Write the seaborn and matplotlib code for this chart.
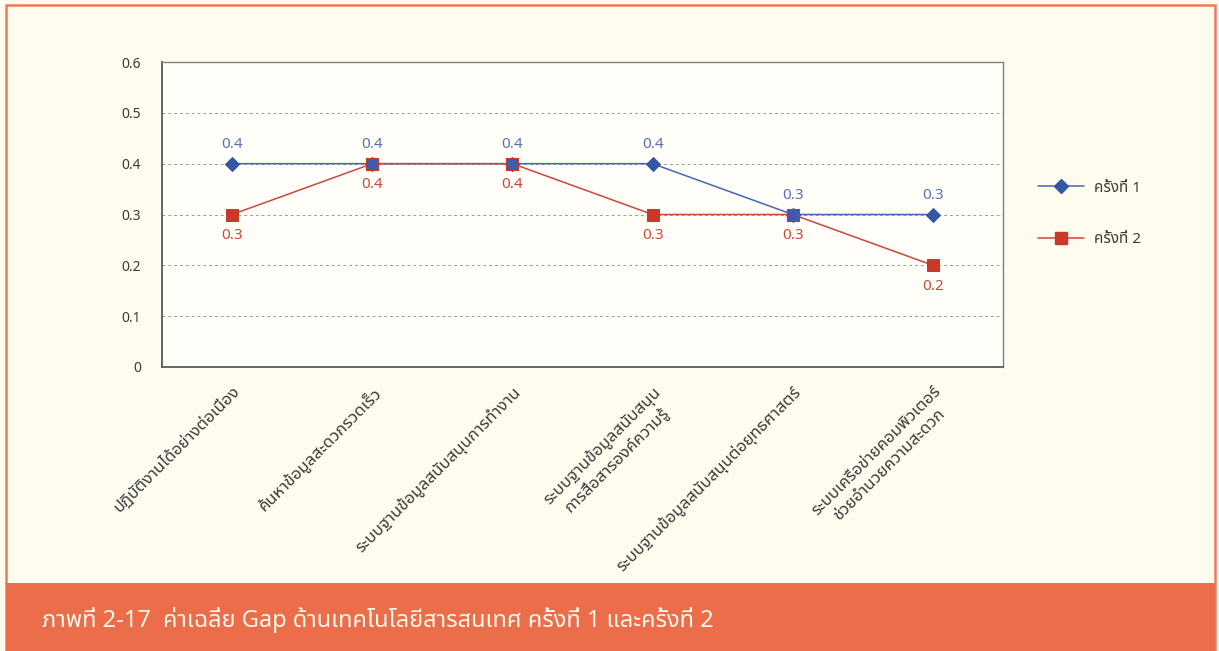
import matplotlib
matplotlib.use("Agg")
import matplotlib.pyplot as plt
from matplotlib import font_manager
from matplotlib.patches import Rectangle
from matplotlib.lines import Line2D
from matplotlib.ticker import FixedLocator, NullFormatter
from matplotlib.transforms import ScaledTranslation
import numpy as np
import pandas as pd
import seaborn as sns

# ---- data -------------------------------------------------------------
categories = [
    "ปฏิบัติงานได้อย่างต่อเนื่อง",
    "ค้นหาข้อมูลสะดวกรวดเร็ว",
    "ระบบฐานข้อมูลสนับสนุนการทำงาน",
    "ระบบฐานข้อมูลสนับสนุน\nการสื่อสารองค์ความรู้",
    "ระบบฐานข้อมูลสนับสนุนต่อยุทธศาสตร์",
    "ระบบเครือข่ายคอมพิวเตอร์\nช่วยอำนวยความสะดวก",
]
round_1 = [0.4, 0.4, 0.4, 0.4, 0.3, 0.3]
round_2 = [0.3, 0.4, 0.4, 0.3, 0.3, 0.2]
series_names = ["ครั้งที่ 1", "ครั้งที่ 2"]
y_ticks = [0, 0.1, 0.2, 0.3, 0.4, 0.5, 0.6]
caption = "ภาพที่ 2-17  ค่าเฉลี่ย Gap ด้านเทคโนโลยีสารสนเทศ ครั้งที่ 1 และครั้งที่ 2"


# ---- pick an installed family that covers Thai -------------------------
def find_thai_family():
    try:
        from fontTools.ttLib import TTFont
    except Exception:
        return None
    hits = []
    for f in font_manager.fontManager.ttflist:
        try:
            tt = TTFont(f.fname, fontNumber=0, lazy=True)
            cmap = tt.getBestCmap() or {}
            if 0x0E01 in cmap and 0x0E33 in cmap and 0x0E48 in cmap:
                hits.append(f.name)
        except Exception:
            pass
    pref = ["Noto Sans Thai", "Noto Sans Thai UI", "Noto Sans Thai Looped",
            "Sarabun", "Loma", "Garuda", "Kinnari", "Norasi", "Waree",
            "Tlwg Typist", "Umpush", "Laksaman", "FreeSans", "Arial Unicode MS"]
    for p in pref:
        if p in hits:
            return p
    return hits[0] if hits else None


sns.set_theme(style="white")
thai = find_thai_family()
families = ([thai] if thai else []) + ["DejaVu Sans"]
plt.rcParams["font.family"] = families

# ---- long-form frame for seaborn --------------------------------------
df = pd.DataFrame({
    "category": categories * 2,
    "value": round_1 + round_2,
    "series": [series_names[0]] * len(categories) + [series_names[1]] * len(categories),
})

blue_line = "#4767AE"
blue_mark = "#3556A6"
red_line = "#C9493A"
red_mark = "#C8392C"
blue_text = "#5872B4"
red_text = "#C94A3A"
cream = "#FEFCEE"
orange = "#EB6D49"
ink = "#3A3A3A"

W, H = 1219, 651
fig = plt.figure(figsize=(W / 100, H / 100), dpi=100, facecolor=cream)

# framed panel and caption band
fig.patches.append(Rectangle((6 / W, 0), 1209 / W, 646 / H, transform=fig.transFigure,
                             fill=False, edgecolor="#EE7A5A", linewidth=1.8, zorder=0))
fig.patches.append(Rectangle((6 / W, 0), 1209 / W, 68 / H, transform=fig.transFigure,
                             facecolor=orange, edgecolor="none", zorder=1))
fig.text(42 / W, 31 / H, caption, color="#FFF6EC", fontsize=17,
         fontweight="bold", ha="left", va="center")

ax = fig.add_axes([162 / W, 284 / H, 841 / W, 305 / H])
ax.set_facecolor("#FFFEF8")

sns.lineplot(
    data=df, x="category", y="value", hue="series", style="series",
    palette={series_names[0]: blue_line, series_names[1]: red_line},
    markers={series_names[0]: "D", series_names[1]: "s"},
    dashes=False, linewidth=1.1, ax=ax, sort=False, legend=False,
)
# marker styling per series
for line, mc, ms, z in zip(ax.lines[:2], [blue_mark, red_mark], [7, 8.5], [3, 4]):
    line.set_markerfacecolor(mc)
    line.set_markeredgecolor(mc)
    line.set_markersize(ms)
    line.set_zorder(z)

# where both rounds coincide the shared point shows a blue square ringed in red
xs = np.arange(len(categories))
same = np.isclose(round_1, round_2)
ax.plot(xs[same], np.array(round_1)[same], linestyle="none", marker="s",
        markersize=8.5, markerfacecolor="#3F5BB0", markeredgecolor=red_mark,
        markeredgewidth=0.8, zorder=5)

# value labels: round 1 above, round 2 below
for i, (a, b) in enumerate(zip(round_1, round_2)):
    ax.annotate(f"{a:.1f}", (i, a), xytext=(0, 14), textcoords="offset points",
                ha="center", va="center", color=blue_text, fontsize=11, zorder=6)
    ax.annotate(f"{b:.1f}", (i, b), xytext=(0, -15), textcoords="offset points",
                ha="center", va="center", color=red_text, fontsize=11, zorder=6)

ax.set_xlim(-0.5, len(categories) - 0.5)
ax.set_ylim(0, 0.6)
ax.set_yticks(y_ticks)
ax.set_yticklabels(["0" if t == 0 else f"{t:.1f}" for t in y_ticks])
ax.yaxis.grid(True, linestyle=(0, (3, 3)), color="#9A9A9A", linewidth=0.7)
ax.set_axisbelow(True)
ax.set_xlabel("")
ax.set_ylabel("")

# category labels at centres, tick marks on category boundaries
ax.set_xticks(xs)
ax.set_xticklabels(categories, rotation=45, ha="right", va="top",
                   rotation_mode="anchor", multialignment="center",
                   fontsize=12, color=ink)
shift = ScaledTranslation(11 / 72, 2 / 72, fig.dpi_scale_trans)
for lab in ax.get_xticklabels():
    lab.set_transform(lab.get_transform() + shift)
ax.tick_params(axis="x", which="major", length=0, pad=12)
ax.xaxis.set_minor_locator(FixedLocator(np.arange(len(categories) + 1) - 0.5))
ax.xaxis.set_minor_formatter(NullFormatter())
ax.tick_params(axis="x", which="minor", length=7, width=1, color="#555555", direction="out")
ax.tick_params(axis="y", length=7, width=1, color="#555555", direction="out",
               labelsize=10, labelcolor=ink, pad=8)
for side in ["left", "bottom"]:
    ax.spines[side].set_color("#5A5A5A")
    ax.spines[side].set_linewidth(1.3)
for side in ["top", "right"]:
    ax.spines[side].set_color("#808080")
    ax.spines[side].set_linewidth(1.0)
    ax.spines[side].set_visible(True)

# legend beside the plot
handles = [
    Line2D([], [], color=blue_line, marker="D", markersize=7, markerfacecolor=blue_mark,
           markeredgecolor=blue_mark, linewidth=1.1),
    Line2D([], [], color=red_line, marker="s", markersize=8.5, markerfacecolor=red_mark,
           markeredgecolor=red_mark, linewidth=1.1),
]
fig.legend(handles, series_names, loc="center left",
           bbox_to_anchor=(1024 / W, (H - 214) / H), frameon=False,
           fontsize=11, handlelength=3.0, handletextpad=0.7, labelspacing=2.4,
           labelcolor=ink)

fig.savefig("out.png", dpi=100, facecolor=cream)
